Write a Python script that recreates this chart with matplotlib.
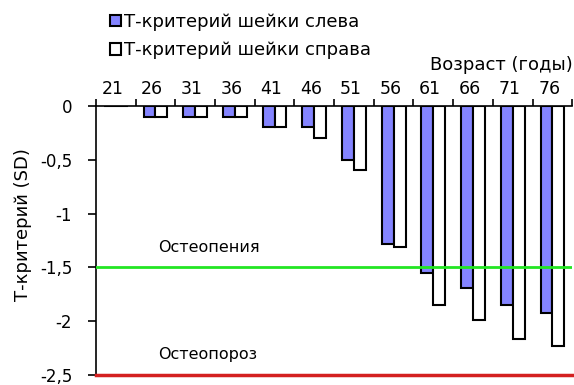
import matplotlib
matplotlib.use('Agg')
import matplotlib.pyplot as plt
import numpy as np

plt.rcParams['font.family'] = ['DejaVu Sans']

ages = ['21', '26', '31', '36', '41', '46', '51', '56', '61', '66', '71', '76']
left_neck = [0, -0.1, -0.1, -0.1, -0.2, -0.2, -0.5, -1.28, -1.55, -1.69, -1.85, -1.92]
right_neck = [0, -0.1, -0.1, -0.1, -0.2, -0.3, -0.6, -1.31, -1.85, -1.99, -2.17, -2.23]
osteopenia = -1.5
osteoporosis = -2.5

fig = plt.figure(figsize=(5.74, 3.85), dpi=100)
ax = fig.add_axes([0.167, 0.026, 0.83, 0.699])

x = np.arange(len(ages))
w = 0.3
b1 = ax.bar(x - w / 2, left_neck, w, color='#8484ff', edgecolor='black', linewidth=1.5, zorder=3)
b2 = ax.bar(x + w / 2, right_neck, w, color='white', edgecolor='black', linewidth=1.5, zorder=3)

# reference levels
ax.axhline(osteopenia, color='#22e622', lw=2, zorder=4)
ax.axhline(osteoporosis, color='#d42020', lw=2.5, zorder=4, clip_on=False)
ax.text(1.06, -1.32, 'Остеопения', fontsize=11.5, va='center', ha='left')
ax.text(1.06, -2.31, 'Остеопороз', fontsize=11.5, va='center', ha='left')

ax.set_xlim(-0.5, len(ages) - 0.5)
ax.set_ylim(-2.5, 0)
ax.xaxis.tick_top()
ax.set_xticks(x - 0.08)
ax.set_xticklabels(ages, fontsize=12.5)
ax.set_xticks(np.arange(len(ages) + 1) - 0.5, minor=True)
ax.tick_params(axis='x', which='major', length=0, pad=6)
ax.tick_params(axis='x', which='minor', length=5, width=1.2, direction='out')

yt = [0, -0.5, -1, -1.5, -2, -2.5]
ax.set_yticks(yt)
ax.set_yticklabels([('%g' % v).replace('.', ',') for v in yt], fontsize=12)
ax.tick_params(axis='y', length=6, width=1.2, direction='out', pad=11)
ax.set_ylabel('Т-критерий (SD)', fontsize=13)
ax.yaxis.set_label_coords(-0.135, 0.56)

for s in ['right', 'bottom']:
    ax.spines[s].set_visible(False)
ax.spines['left'].set_linewidth(1.2)
ax.spines['top'].set_linewidth(1.2)

fig.legend([b1, b2], ['Т-критерий шейки слева', 'Т-критерий шейки справа'],
           loc='upper left', bbox_to_anchor=(0.173, 0.995), frameon=False,
           fontsize=13, handlelength=0.6, handleheight=0.6, handletextpad=0.15,
           labelspacing=0.58, borderaxespad=0.2)
fig.text(0.997, 1 - 65 / 385, 'Возраст (годы)', fontsize=13, ha='right', va='center')

fig.savefig('out.png', dpi=100)
